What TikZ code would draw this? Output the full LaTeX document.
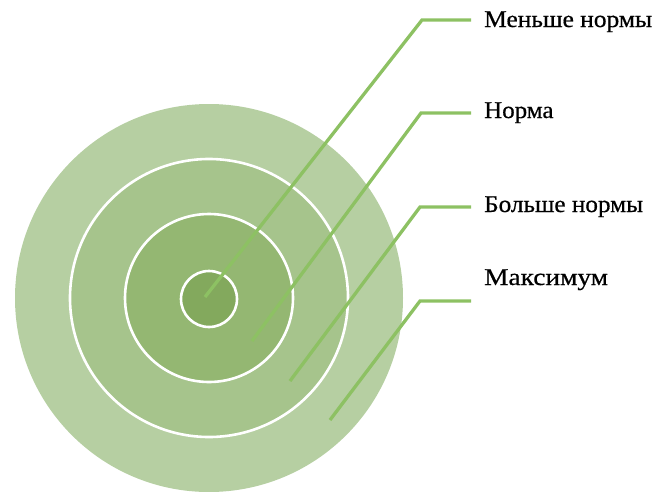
\documentclass[tikz,border=0pt]{standalone}
\usepackage{fontspec}
\setmainfont{Liberation Serif}
\definecolor{ringA}{RGB}{182,207,162}
\definecolor{ringB}{RGB}{166,196,140}
\definecolor{ringC}{RGB}{148,183,114}
\definecolor{ringD}{RGB}{131,169,93}
\definecolor{leadgreen}{RGB}{141,193,99}
\newcommand{\lbltext}[2]{\scalebox{#1}[1]{#2}}
\begin{document}
\begin{tikzpicture}[x=1pt,y=-1pt,
  ring/.style={draw=white,line width=2.6pt},
  leader/.style={draw=leadgreen,line width=3.3pt,line join=miter},
  lbl/.style={anchor=base west,inner sep=0pt,font=\fontsize{24}{27}\selectfont\addfontfeature{FakeBold=0.6},text=black}]
\useasboundingbox (0,0) rectangle (667,491);
\coordinate (ctr) at (209,298);
\fill[ringA] (ctr) circle[radius=194pt];
\path[ring,fill=ringB] (ctr) circle[radius=139pt];
\path[ring,fill=ringC] (ctr) circle[radius=84pt];
\path[ring,fill=ringD] (209,299) circle[radius=28pt];
% labels
\node[lbl] (l1) at (484,27) {\lbltext{1.06}{Меньше нормы}};
\node[lbl] (l2) at (484,118) {\lbltext{1.04}{Норма}};
\node[lbl] (l3) at (484,212) {\lbltext{1.05}{Больше нормы}};
\node[lbl] (l4) at (484,285) {\lbltext{1.14}{Максимум}};
% leader points
\coordinate (p1) at (205,297);
\coordinate (p2) at (252,341);
\coordinate (p3) at (290,381);
\coordinate (p4) at (330,420);
\coordinate (c1) at (422,20);
\coordinate (c2) at (421,113);
\coordinate (c3) at (420,207);
\coordinate (c4) at (420,301);
\coordinate (e1) at (471,20);
\coordinate (e2) at (471,113);
\coordinate (e3) at (471,207);
\coordinate (e4) at (471,301);
\draw[leader] (p1) -- (c1) -- (e1);
\draw[leader] (p2) -- (c2) -- (e2);
\draw[leader] (p3) -- (c3) -- (e3);
\draw[leader] (p4) -- (c4) -- (e4);
\end{tikzpicture}
\end{document}
